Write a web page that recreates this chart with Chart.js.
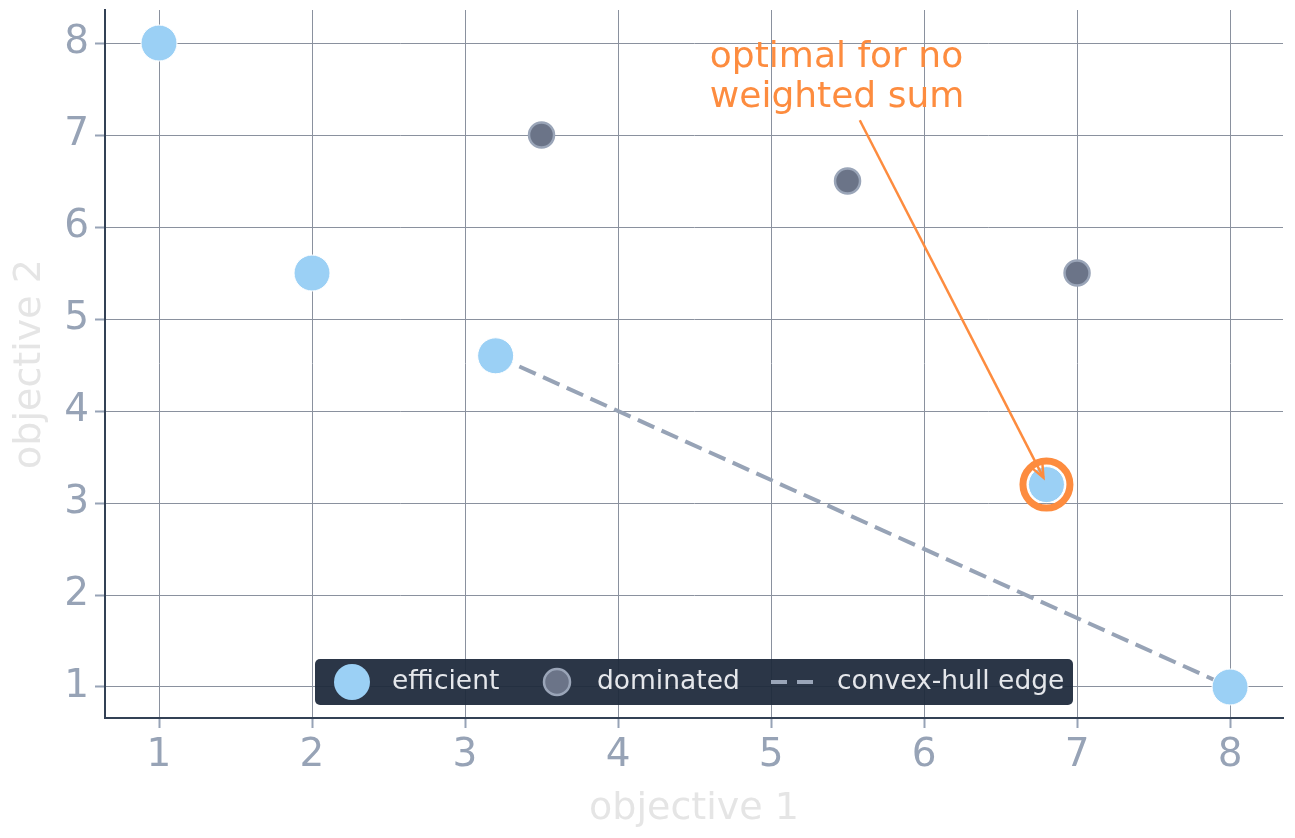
<!DOCTYPE html>
<html><head><meta charset="utf-8">
<script src="https://cdn.jsdelivr.net/npm/chart.js@4"></script>
<style>html,body{margin:0;padding:0;background:#fff;}canvas{display:block;}</style>
</head><body>
<canvas id="c" width="1295" height="838"></canvas>
<script>
const efficientX = [1, 2, 3.2, 6.8, 8];
const efficientY = [8, 5.5, 4.6, 3.2, 1];
const dominatedX = [3.5, 5.5, 7];
const dominatedY = [7, 6.5, 5.5];
const hullX = [3.2, 8];
const hullY = [4.6, 1];
const highlightX = [6.8];
const highlightY = [3.2];
const tickValues = [1, 2, 3, 4, 5, 6, 7, 8];
const legendLabels = ['efficient', 'dominated', 'convex-hull edge'];
const annotationText = ['optimal for no', 'weighted sum'];
const annotationTextAt = [4.6, 7.74];
const arrowFrom = [5.58, 7.16];

const FONT = "'DejaVu Sans', sans-serif";
const toPts = (xs, ys) => xs.map((x, i) => ({x, y: ys[i]}));

const areaPlugin = {
  id: 'area',
  afterLayout(chart) {
    const xs = chart.scales.x, ys = chart.scales.y, ca = chart.chartArea;
    const top = 10, right = 1283;
    ca.top = top; ca.right = right;
    ca.width = ca.right - ca.left; ca.height = ca.bottom - ca.top;
    ys.top = top; ys.height = ys.bottom - ys.top;
    xs.right = right; xs.width = xs.right - xs.left;
    ys.configure(); xs.configure();
  }
};

const decorPlugin = {
  id: 'decor',
  afterDatasetsDraw(chart) {
    const ctx = chart.ctx, xs = chart.scales.x, ys = chart.scales.y;
    ctx.save();
    const cx = xs.getPixelForValue(highlightX[0]), cy = ys.getPixelForValue(highlightY[0]);
    ctx.beginPath();
    ctx.arc(cx, cy, 23.5, 0, Math.PI * 2);
    ctx.strokeStyle = '#fd8c3f';
    ctx.lineWidth = 7;
    ctx.stroke();
    ctx.fillStyle = '#fd8c3f';
    ctx.font = '36px ' + FONT;
    ctx.textAlign = 'left';
    ctx.textBaseline = 'alphabetic';
    const tx = xs.getPixelForValue(annotationTextAt[0]), ty = ys.getPixelForValue(annotationTextAt[1]);
    ctx.fillText(annotationText[0], tx, ty);
    ctx.fillText(annotationText[1], tx, ty + 40);
    const sx = xs.getPixelForValue(arrowFrom[0]), sy = ys.getPixelForValue(arrowFrom[1]);
    const ex = cx - 3, ey = cy - 7;
    ctx.beginPath();
    ctx.moveTo(sx, sy); ctx.lineTo(ex, ey);
    ctx.strokeStyle = '#fd8c3f'; ctx.lineWidth = 2.5; ctx.stroke();
    const ang = Math.atan2(ey - sy, ex - sx);
    const hl = 14;
    ctx.beginPath();
    ctx.moveTo(ex - hl * Math.cos(ang - 0.4), ey - hl * Math.sin(ang - 0.4));
    ctx.lineTo(ex, ey);
    ctx.lineTo(ex - hl * Math.cos(ang + 0.4), ey - hl * Math.sin(ang + 0.4));
    ctx.stroke();
    ctx.restore();

    // legend
    ctx.save();
    const lx = 315, ly = 659, lw = 758, lh = 46;
    ctx.fillStyle = 'rgba(30,41,59,0.94)';
    ctx.beginPath();
    ctx.roundRect(lx, ly, lw, lh, 5);
    ctx.fill();
    const my = ly + lh / 2;
    ctx.beginPath(); ctx.arc(352, my, 18, 0, Math.PI * 2);
    ctx.fillStyle = '#9bd0f5'; ctx.fill();
    ctx.beginPath(); ctx.arc(557, my, 13, 0, Math.PI * 2);
    ctx.fillStyle = '#6b7488'; ctx.fill();
    ctx.strokeStyle = '#9aa5b8'; ctx.lineWidth = 2.5; ctx.stroke();
    ctx.beginPath(); ctx.moveTo(771, my); ctx.lineTo(818, my);
    ctx.setLineDash([16, 10]); ctx.strokeStyle = '#9aa5b8'; ctx.lineWidth = 4; ctx.stroke();
    ctx.setLineDash([]);
    ctx.fillStyle = '#e5e7eb';
    ctx.font = '26.5px ' + FONT;
    ctx.textBaseline = 'middle';
    ctx.fillText(legendLabels[0], 392, my);
    ctx.fillText(legendLabels[1], 597, my);
    ctx.fillText(legendLabels[2], 837, my);
    ctx.restore();
  }
};

new Chart(document.getElementById('c'), {
  type: 'scatter',
  data: {
    datasets: [
      {
        label: legendLabels[2], type: 'line', data: toPts(hullX, hullY),
        borderColor: '#97a3b6', borderWidth: 4, borderDash: [18, 8],
        pointRadius: 0, fill: false, order: 3
      },
      {
        label: legendLabels[1], data: toPts(dominatedX, dominatedY),
        backgroundColor: '#6b7488', borderColor: '#9aa5b8', borderWidth: 2.5,
        pointRadius: 12.5, pointHoverRadius: 12.5, order: 2
      },
      {
        label: legendLabels[0], data: toPts(efficientX, efficientY),
        backgroundColor: '#9bd0f5', borderColor: '#ffffff', borderWidth: 1,
        pointRadius: 18, pointHoverRadius: 18, order: 1
      }
    ]
  },
  options: {
    responsive: false, animation: false, devicePixelRatio: 1,
    layout: { padding: { top: 10, right: 12, left: 0, bottom: 0 } },
    plugins: { legend: { display: false }, tooltip: { enabled: false } },
    scales: {
      x: {
        type: 'linear', min: 0.647, max: 8.346,
        afterBuildTicks(s) { s.ticks = tickValues.map(v => ({value: v})); },
        afterFit(s) { s.height = 120; },
        ticks: { color: '#97a3b6', font: { family: FONT, size: 39 }, padding: 4 },
        grid: { color: '#8a919e', lineWidth: 1, tickLength: 10, tickColor: '#97a3b6', tickWidth: 2 },
        border: { color: '#334155', width: 2 },
        title: { display: true, text: 'objective 1', color: '#e5e5e5', font: { family: FONT, size: 38 }, padding: { top: 0, bottom: 6 } }
      },
      y: {
        type: 'linear', min: 0.663, max: 8.359,
        afterBuildTicks(s) { s.ticks = tickValues.map(v => ({value: v})); },
        afterFit(s) { s.width = 105; },
        ticks: { color: '#97a3b6', font: { family: FONT, size: 39 }, padding: 6 },
        grid: { color: '#8a919e', lineWidth: 1, tickLength: 10, tickColor: '#97a3b6', tickWidth: 2 },
        border: { color: '#334155', width: 2 },
        title: { display: true, text: 'objective 2', color: '#e5e5e5', font: { family: FONT, size: 38 }, padding: { top: 7, bottom: 4 } }
      }
    }
  },
  plugins: [areaPlugin, decorPlugin]
});
</script>
</body></html>
